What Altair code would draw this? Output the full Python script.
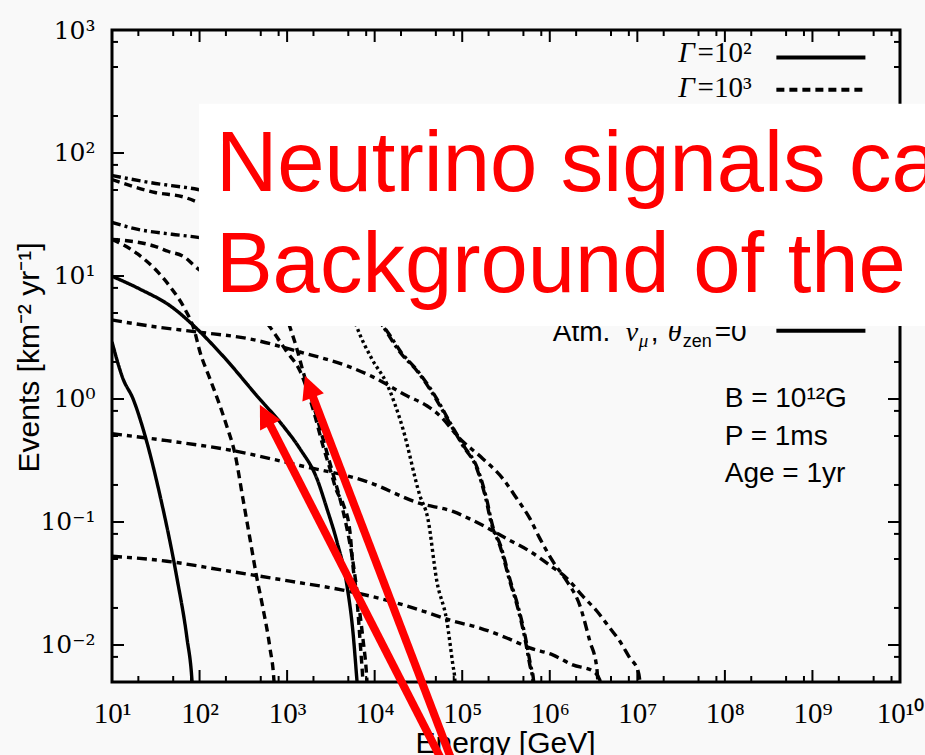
import math
import altair as alt
import pandas as pd

W, H = 788, 652

# ---------------- axis ticks / labels ----------------
x_major = [1e1, 1e2, 1e3, 1e4, 1e5, 1e6, 1e7, 1e8, 1e9, 1e10]
x_labels = ["10¹", "10²", "10³", "10⁴", "10⁵", "10⁶", "10⁷", "10⁸", "10⁹", "10¹⁰"]
y_major = [0.01, 0.1, 1, 10, 100, 1000]
y_labels = ["10⁻²", "10⁻¹", "10⁰", "10¹", "10²", "10³"]
minor_mult = [2, 5, 8]
x_minor = [m * 10.0 ** d for d in range(1, 10) for m in minor_mult]
y_minor = [m * 10.0 ** d for d in range(-3, 3) for m in minor_mult if 0.0051 < m * 10.0 ** d < 1000]

# ---------------- curves: log10(E / GeV), log10(events) ----------------
F_lx = [1.00, 1.32, 1.685, 1.913, 2.267, 2.655, 2.952, 3.146, 3.340, 3.454, 3.568, 3.683, 3.751, 3.797, 3.81]
F_ly = [0.998, 0.893, 0.747, 0.609, 0.350, 0.026, -0.217, -0.404, -0.647, -0.890, -1.157, -1.514, -1.887, -2.284, -2.40]
H_lx = [1.00, 1.126, 1.240, 1.354, 1.548, 1.742, 1.856, 1.913, 1.925]
H_ly = [0.464, 0.164, 0.002, -0.241, -0.784, -1.457, -1.943, -2.284, -2.42]
E_lx = [1.00, 1.297, 1.525, 1.685, 1.833, 1.936, 2.005, 2.119, 2.233, 2.313, 2.404, 2.495, 2.575, 2.655, 2.724, 2.804, 2.849, 2.861]
E_ly = [1.298, 1.177, 1.031, 0.893, 0.731, 0.569, 0.382, 0.164, -0.055, -0.225, -0.444, -0.809, -1.133, -1.457, -1.700, -2.024, -2.284, -2.43]
D_lx = [1.00, 1.491, 1.639, 1.833, 1.947, 2.347, 2.632, 2.804, 2.998, 3.146, 3.295, 3.409, 3.489, 3.568, 3.637, 3.717, 3.751, 3.797, 3.831, 3.865, 3.877]
D_ly = [1.298, 1.241, 1.201, 1.152, 1.079, 0.893, 0.731, 0.585, 0.382, 0.229, -0.079, -0.379, -0.566, -0.752, -0.849, -1.076, -1.352, -1.619, -1.943, -2.284, -2.43]
B_lx = [1.00, 1.491, 1.833, 1.982, 2.461, 2.804, 3.032, 3.112, 3.180, 3.295, 3.432, 3.523, 3.603, 3.683, 3.751, 3.808, 3.865, 3.911, 3.922]
B_ly = [1.784, 1.679, 1.639, 1.598, 1.379, 1.055, 0.585, 0.407, 0.229, -0.039, -0.379, -0.606, -0.809, -1.052, -1.319, -1.619, -1.943, -2.284, -2.43]
A_lx = [1.00, 1.434, 1.982, 2.689, 3.374, 3.831, 4.116, 4.288, 4.493, 4.664, 4.893, 5.007, 5.167, 5.269, 5.338, 5.429, 5.543, 5.635, 5.715, 5.772, 5.806, 5.817]
A_ly = [1.817, 1.760, 1.703, 1.582, 1.339, 0.934, 0.569, 0.382, 0.220, 0.042, -0.241, -0.379, -0.566, -0.809, -1.028, -1.190, -1.481, -1.700, -1.943, -2.162, -2.284, -2.43]
C_lx = [1.00, 1.297, 1.685, 1.982, 2.689, 3.374, 3.831, 4.139, 4.30, 4.50, 4.675, 4.90, 5.015, 5.175, 5.277, 5.346, 5.437, 5.551, 5.643, 5.723, 5.78, 5.814, 5.825]
C_ly = [1.436, 1.379, 1.339, 1.314, 1.177, 0.974, 0.771, 0.553, 0.382, 0.220, 0.042, -0.241, -0.379, -0.566, -0.809, -1.028, -1.190, -1.481, -1.700, -1.943, -2.162, -2.284, -2.43]
M_lx = [2.461, 3.146, 3.603, 3.797, 3.968, 4.139, 4.322, 4.516, 4.607, 4.710, 4.824, 4.893, 4.916, 4.927]
M_ly = [2.028, 1.622, 1.055, 0.585, 0.326, 0.123, -0.241, -0.784, -0.971, -1.481, -1.805, -2.162, -2.284, -2.43]
G_lx = [1.00, 1.434, 1.970, 2.575, 3.146, 3.683, 3.979, 4.368, 4.596, 4.744, 4.973, 5.235, 5.463, 5.623, 5.772, 5.886, 6.034, 6.194, 6.342, 6.457, 6.537, 6.548, 6.559]
G_ly = [0.642, 0.593, 0.545, 0.488, 0.382, 0.269, 0.180, 0.026, -0.055, -0.136, -0.323, -0.485, -0.647, -0.809, -0.971, -1.133, -1.319, -1.481, -1.676, -1.968, -2.186, -2.284, -2.43]
I_lx = [1.00, 1.628, 2.381, 3.146, 3.911, 4.516, 4.893, 5.121, 5.543, 5.772, 6.0, 6.194, 6.377, 6.537, 6.685, 6.799, 6.913, 7.005, 7.027, 7.039]
I_ly = [-0.282, -0.339, -0.420, -0.541, -0.671, -0.849, -0.914, -0.987, -1.149, -1.238, -1.352, -1.457, -1.603, -1.724, -1.862, -1.968, -2.105, -2.203, -2.284, -2.43]
J_lx = [1.00, 1.628, 2.267, 3.032, 3.637, 4.174, 4.550, 4.893, 5.201, 5.509, 5.772, 6.034, 6.263, 6.491, 6.571, 6.605]
J_ly = [-1.279, -1.319, -1.392, -1.481, -1.554, -1.643, -1.724, -1.805, -1.862, -1.943, -2.024, -2.081, -2.162, -2.211, -2.284, -2.43]

curves = [
    ("F", "solid", F_lx, F_ly), ("H", "solid", H_lx, H_ly),
    ("E", "dashed", E_lx, E_ly), ("D", "dashed", D_lx, D_ly), ("B", "dashed", B_lx, B_ly),
    ("M", "dotted", M_lx, M_ly),
    ("A", "dashdot", A_lx, A_ly), ("C", "dashdot", C_lx, C_ly),
    ("G", "longdash", G_lx, G_ly), ("I", "longdash", I_lx, I_ly), ("J", "longdash", J_lx, J_ly),
]
styles = ["solid", "dashed", "dotted", "dashdot", "longdash"]
dashes = [[1, 0], [8, 5], [3, 3], [9, 4, 3, 4], [10, 5, 5, 5]]

# ---------------- legend / annotations (data coordinates, log10) ----------------
leg_style = ["solid", "dashed", "dotted", "solid"]
leg_line_ly = [2.776, 2.514, 2.246, 0.555]
leg_line_lx = [8.588, 9.605]
gamma_text = ["=10²", "=10³", "=10⁴"]
gamma_ly = [2.741, 2.457, 2.215]
gamma_lx_right = 8.306
gamma_sym_lx = 7.655

atm_sans = [("Atm.", 6.034, 0.472, 28), (",", 7.153, 0.472, 28), ("zen", 7.518, 0.423, 18), ("=0", 7.884, 0.472, 28)]
atm_serif = [("ν", 6.868, 0.472, 28), ("μ", 7.016, 0.423, 19), ("θ", 7.347, 0.472, 28)]

param_text = ["B = 10¹²G", "P = 1ms", "Age = 1yr"]
param_ly = [-0.063, -0.371, -0.671]
param_lx = 7.998

box_lx = [1.993, 10.6]
box_ly = [0.593, 2.400]
red_text = ["Neutrino signals can", "Background of the"]
red_ly = [1.695, 0.869]
red_lx = 2.187

arrow_tail_lx = [4.809, 4.912]
arrow_tail_ly = [-2.997, -2.997]
arrow_end_lx = [2.758, 3.260]
arrow_end_ly = [-0.144, 0.083]
arrow_tip_lx = [2.689, 3.203]
arrow_tip_ly = [-0.047, 0.188]
arrow_angle = [333, 339]

# ---------------- build ----------------
xs = alt.Scale(type="log", domain=[10, 1e10])
ys = alt.Scale(type="log", domain=[0.005, 1000])


def label_expr(values, labels):
    expr = "''"
    for v, l in reversed(list(zip(values, labels))):
        expr = f"round(log(datum.value)/LN10) == {round(math.log10(v))} ? '{l}' : ({expr})"
    return expr


x_axis = alt.Axis(
    values=x_major, labelExpr=label_expr(x_major, x_labels), ticks=False, tickSize=0, domain=False,
    grid=False, labelFont="Liberation Serif", labelFontSize=29, labelColor="black", labelPadding=40,
    labelBaseline="alphabetic", labelFlush=False, labelOverlap=False, labelBound=False,
    title="Energy [GeV]", titleFont="Liberation Sans", titleFontSize=30, titleFontWeight="normal",
    titleColor="black", titleX=393, titleY=70, titleBaseline="alphabetic", titleAlign="center",
)
y_axis = alt.Axis(
    values=y_major, labelExpr=label_expr(y_major, y_labels), ticks=False, tickSize=0, domain=False,
    grid=False, labelFont="DejaVu Serif", labelFontSize=25, labelColor="black", labelPadding=17,
    labelAlign="right", labelBaseline="middle", labelFlush=False, labelOverlap=False,
    title="Events [km⁻² yr⁻¹]", titleFont="Liberation Sans", titleFontSize=30, titleFontWeight="normal",
    titleColor="black", titleX=-74, titleY=327, titleAngle=270, titleBaseline="alphabetic", titleAlign="center",
)

XE = alt.X("E:Q", scale=xs, axis=x_axis)
YN = alt.Y("N:Q", scale=ys, axis=y_axis)

rows = []
for name, style, lx, ly in curves:
    for i, (a, b) in enumerate(zip(lx, ly)):
        rows.append({"curve": name, "style": style, "i": i, "lx": a, "ly": b})
curve_df = pd.DataFrame(rows)

dash_scale = alt.Scale(domain=styles, range=dashes)


def logc(df, **extra):
    calc = {"E": "pow(10, datum.lx)", "N": "pow(10, datum.ly)"}
    calc.update(extra)
    return alt.Chart(df).transform_calculate(**calc)


curve_layer = logc(curve_df).mark_line(clip=True, strokeWidth=3.4, color="black", interpolate="monotone").encode(
    x=XE, y=YN,
    detail="curve:N",
    order="i:Q",
    strokeDash=alt.StrokeDash("style:N", scale=dash_scale, legend=None),
)

layers = [curve_layer]

# ticks (inward, all four sides)
for vals, length in [(x_major, 12), (x_minor, 6)]:
    d = pd.DataFrame({"E": vals})
    for y0, y1 in [(H, H - length), (0, length)]:
        layers.append(alt.Chart(d).mark_rule(color="black", strokeWidth=2).encode(
            x=XE, y=alt.value(y0), y2=alt.value(y1)))
for vals, length in [(y_major, 12), (y_minor, 6)]:
    d = pd.DataFrame({"N": vals})
    for x0, x1 in [(0, length), (W, W - length)]:
        layers.append(alt.Chart(d).mark_rule(color="black", strokeWidth=2).encode(
            y=YN, x=alt.value(x0), x2=alt.value(x1)))

# legend sample lines
leg_df = pd.DataFrame({"style": leg_style, "ly": leg_line_ly, "lx": leg_line_lx[0], "lx2": leg_line_lx[1]})
layers.append(logc(leg_df, E2="pow(10, datum.lx2)").mark_rule(color="black", strokeWidth=4).encode(
    x=XE, x2="E2:Q", y=YN,
    strokeDash=alt.StrokeDash("style:N", scale=dash_scale, legend=None)))

g_df = pd.DataFrame({"t": gamma_text, "ly": gamma_ly, "lx": gamma_lx_right})
layers.append(logc(g_df).mark_text(align="right", baseline="alphabetic", font="Liberation Serif",
                                   fontSize=29, color="black").encode(x=XE, y=YN, text="t:N"))
gs_df = pd.DataFrame({"t": ["Γ"] * 3, "ly": gamma_ly, "lx": gamma_sym_lx})
layers.append(logc(gs_df).mark_text(align="right", baseline="alphabetic", font="Liberation Serif",
                                    fontStyle="italic", fontSize=29, color="black").encode(x=XE, y=YN, text="t:N"))

for pieces, font, style in [(atm_sans, "Liberation Sans", "normal"), (atm_serif, "Liberation Serif", "italic")]:
    for t, lx, ly, fs in pieces:
        d = pd.DataFrame({"t": [t], "lx": [lx], "ly": [ly]})
        layers.append(logc(d).mark_text(align="left", baseline="alphabetic", font=font, fontStyle=style,
                                        fontSize=fs, color="black").encode(x=XE, y=YN, text="t:N"))

p_df = pd.DataFrame({"t": param_text, "ly": param_ly, "lx": param_lx})
layers.append(logc(p_df).mark_text(align="left", baseline="alphabetic", font="Liberation Sans",
                                   fontSize=28, color="black").encode(x=XE, y=YN, text="t:N"))

# white overlay box
box_df = pd.DataFrame({"lx": [box_lx[0]], "lx2": [box_lx[1]], "ly": [box_ly[0]], "ly2": [box_ly[1]]})
layers.append(logc(box_df, E2="pow(10, datum.lx2)", N2="pow(10, datum.ly2)").mark_rect(
    fill="white", clip=False, strokeWidth=0).encode(x=XE, x2="E2:Q", y=YN, y2="N2:Q"))

r_df = pd.DataFrame({"t": red_text, "ly": red_ly, "lx": red_lx})
layers.append(logc(r_df).mark_text(align="left", baseline="alphabetic", font="Liberation Sans",
                                   fontSize=85, color="#ff0000").encode(x=XE, y=YN, text="t:N"))

# red arrows
a_df = pd.DataFrame({"lx": arrow_tail_lx, "ly": arrow_tail_ly, "lx2": arrow_end_lx, "ly2": arrow_end_ly})
layers.append(logc(a_df, E2="pow(10, datum.lx2)", N2="pow(10, datum.ly2)").mark_rule(
    color="#ff0000", strokeWidth=8, clip=False).encode(x=XE, x2="E2:Q", y=YN, y2="N2:Q"))
h_df = pd.DataFrame({"lx": arrow_tip_lx, "ly": arrow_tip_ly, "ang": arrow_angle})
layers.append(logc(h_df).mark_point(shape="M0,0 L0.5,1 L-0.5,1 Z", filled=True, color="#ff0000",
                                    opacity=1, size=2116, strokeWidth=0, clip=False).encode(
    x=XE, y=YN, angle=alt.Angle("ang:Q", scale=None)))

chart = alt.layer(*layers).properties(
    width=W, height=H,
    padding={"left": 112, "top": 30, "right": 25, "bottom": 73},
    autosize=alt.AutoSizeParams(type="none"),
    background="#f9f9f9",
).configure_view(stroke="black", strokeWidth=3)

chart.save("out.html", embed_options={"renderer": "svg", "actions": False})
